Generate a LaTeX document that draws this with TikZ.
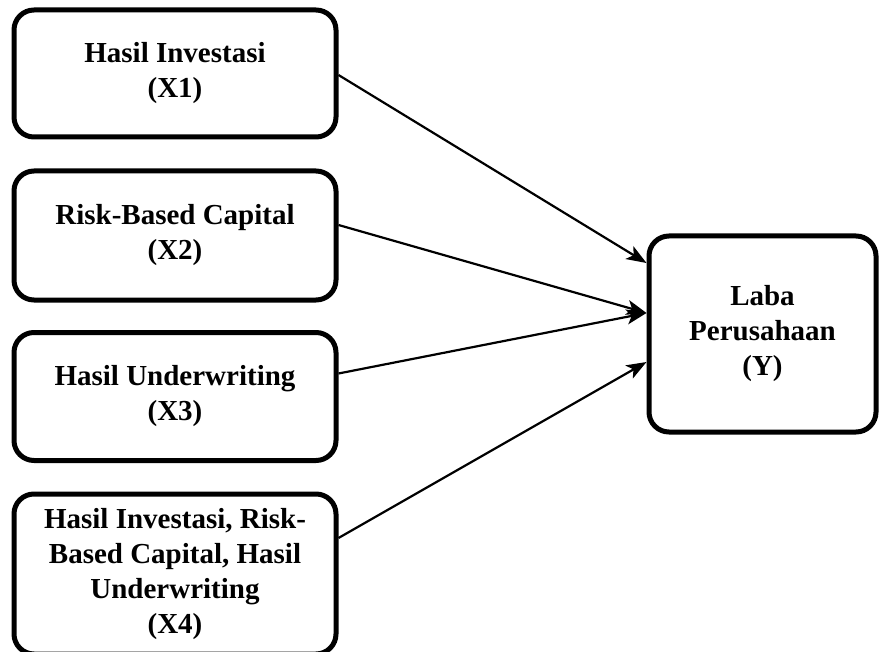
\documentclass[tikz,border=0pt]{standalone}
\usepackage{fontspec}
\setmainfont{Liberation Serif}
\usetikzlibrary{arrows.meta}
\begin{document}
\begin{tikzpicture}[x=1pt,y=-1pt,
  varbox/.style={draw=black, fill=white, line width=5pt, rounded corners=20pt,
    align=center, inner sep=0pt, font=\bfseries\fontsize{29}{35}\selectfont},
  arr/.style={line width=2.2pt, -{Stealth[length=20pt,width=15pt,inset=5pt]}}]
\useasboundingbox (0,0) rectangle (880,652);
\node[varbox, minimum width=322pt, minimum height=127pt] (b1) at (175,73.5) {Hasil Investasi\\(X1)};
\node[varbox, minimum width=322pt, minimum height=129pt] (b2) at (175,235.5) {Risk-Based Capital\\(X2)};
\node[varbox, minimum width=322pt, minimum height=128pt] (b3) at (175,396.5) {Hasil Underwriting\\(X3)};
\node[varbox, minimum width=322pt, minimum height=160pt] (b4) at (175,574) {Hasil Investasi, Risk-\\Based Capital, Hasil\\Underwriting\\(X4)};
\node[varbox, minimum width=227pt, minimum height=196pt] (y) at (762.5,334) {Laba\\Perusahaan\\(Y)};
\draw[arr] ([yshift=-1.5pt]b1.east) -- ([yshift=71pt]y.west);
\draw[arr] ([yshift=10.5pt]b2.east) -- ([yshift=21pt]y.west);
\draw[arr] ([yshift=23pt]b3.east) -- ([yshift=21pt]y.west);
\draw[arr] ([yshift=36pt]b4.east) -- ([yshift=-28pt]y.west);
\end{tikzpicture}
\end{document}
